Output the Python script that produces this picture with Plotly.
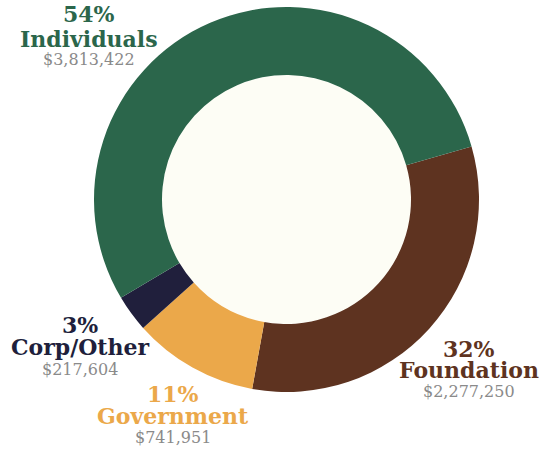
import plotly.graph_objects as go

W, H = 547, 449

categories = ["Foundation", "Government", "Corp/Other", "Individuals"]
amounts = [2277250, 741951, 217604, 3813422]
colors = ["#5e3320", "#eba84a", "#201f3c", "#2b664b"]

# label positions in pixels: centre x, baselines of (percent, name, amount) lines
label_x = [469, 173, 80, 89]
label_base = [(357, 378, 397), (402, 424, 443), (333, 355, 375), (22, 47, 65)]

total = sum(amounts)
pcts = [round(a / total * 100) for a in amounts]

# donut geometry (pixels)
cx, cy, r, r_in = 286.5, 199.5, 192.5, 124.5

fig = go.Figure()
fig.add_trace(go.Pie(
    labels=categories,
    values=amounts,
    sort=False,
    direction="clockwise",
    rotation=74,
    hole=r_in / r,
    marker=dict(colors=colors, line=dict(width=0)),
    textinfo="none",
    hoverinfo="label+value+percent",
    showlegend=False,
    domain=dict(x=[(cx - r) / W, (cx + r) / W], y=[1 - (cy + r) / H, 1 - (cy - r) / H]),
))

fig.add_shape(
    type="circle", xref="paper", yref="paper", layer="below",
    x0=(cx - r_in) / W, x1=(cx + r_in) / W,
    y0=1 - (cy + r_in) / H, y1=1 - (cy - r_in) / H,
    fillcolor="#fdfdf5", line=dict(width=0),
)

serif = "DejaVu Serif"
for cat, amt, p, col, lx, bases in zip(categories, amounts, pcts, colors, label_x, label_base):
    lines = [
        (f"<b>{p}%</b>", 22, col),
        (f"<b>{cat}</b>", 22, col),
        (f"${amt:,}", 16, "#8a8a8a"),
    ]
    for (txt, sz, c), b in zip(lines, bases):
        yc = b - 0.346 * sz  # box centre for a given baseline
        fig.add_annotation(
            text=txt, x=lx / W, y=1 - yc / H, xref="paper", yref="paper",
            xanchor="center", yanchor="middle", showarrow=False, borderpad=0,
            font=dict(family=serif, size=sz, color=c),
        )

fig.update_layout(
    width=W, height=H,
    margin=dict(l=0, r=0, t=0, b=0),
    paper_bgcolor="#ffffff",
    plot_bgcolor="#ffffff",
)

fig.write_html(
    "out.html",
    config={"displayModeBar": False},
    post_script="document.body.style.margin='0';document.body.style.overflow='hidden';",
)
